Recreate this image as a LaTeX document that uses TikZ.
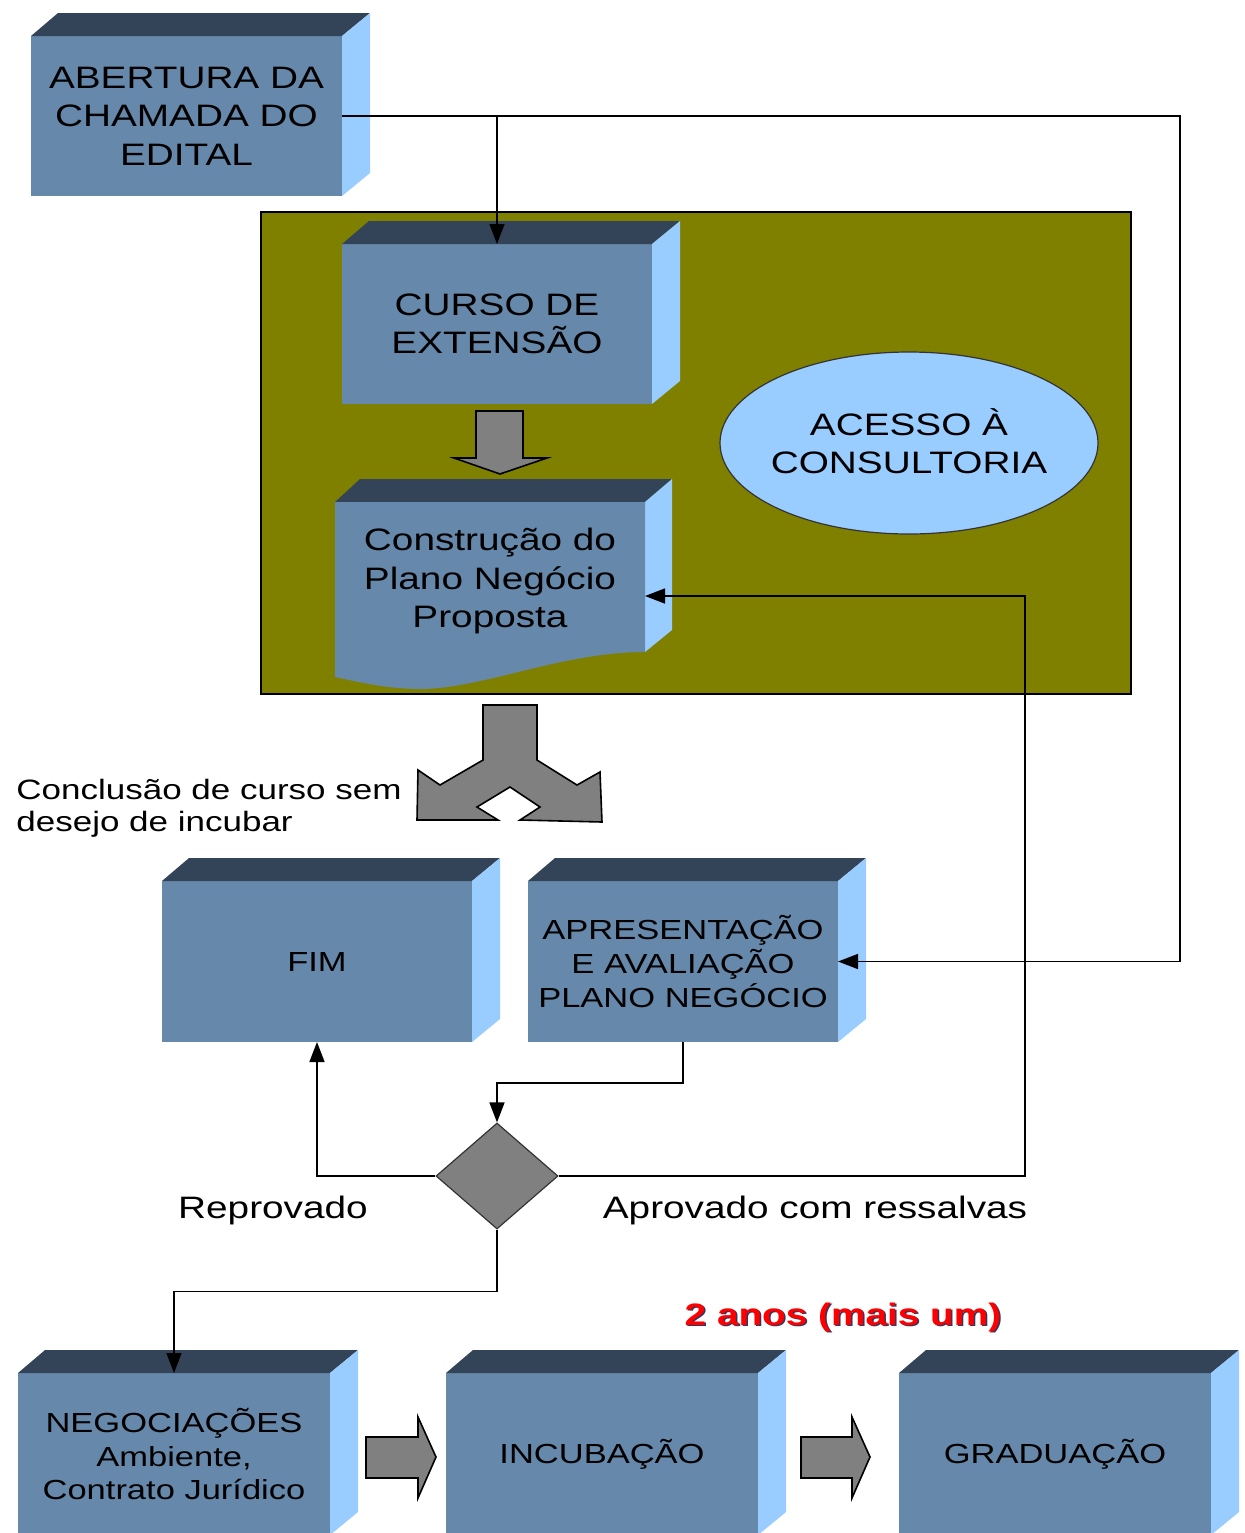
\documentclass[tikz,border=0pt]{standalone}
\usepackage{fontspec}
\setmainfont{Liberation Sans}[FakeStretch=1.25]
\usetikzlibrary{shapes.geometric,arrows.meta}
\definecolor{frontc}{RGB}{102,136,170}
\definecolor{topc}{RGB}{52,68,88}
\definecolor{sidec}{RGB}{153,204,255}
\definecolor{olivec}{RGB}{128,128,0}
\definecolor{grayc}{RGB}{128,128,128}
\definecolor{shadowc}{RGB}{50,55,95}
\tikzset{
  front/.style={fill=frontc,inner sep=0pt,outer sep=0pt,align=center,text=black},
  conn/.style={draw=black,line width=0.75pt,-{Triangle[length=10pt,width=7.5pt]}},
  blockarrow/.style={fill=grayc,draw=black,line width=0.8pt,line join=miter},
  lbl/.style={inner sep=0pt,text=black}
}
\newcommand\faces[1]{%
  \fill[topc] (#1.north west) -- ++(27,-23) -- ([shift={(28,-23)}]#1.north east) -- (#1.north east) -- cycle;
  \fill[sidec] (#1.north east) -- ++(28,-23) -- ([shift={(28,-23)}]#1.south east) -- (#1.south east) -- cycle;
}
\newcommand\bigfont{\fontsize{15.5}{19.2}\selectfont}
\newcommand\midfont{\fontsize{13.8}{16.8}\selectfont}
\begin{document}
\begin{tikzpicture}[x=0.5pt,y=-0.5pt]
\useasboundingbox (0,0) rectangle (1244,1533);
\clip (0,0) rectangle (1244,1533);
\fill[white] (0,0) rectangle (1244,1533);

% olive background
\node[fill=olivec,draw=black,line width=0.6pt,inner sep=0pt,minimum width=435pt,minimum height=241pt] (bg) at (696,453) {};

% box 1
\node[front,font=\bigfont,minimum width=155.5pt,minimum height=80pt] (ab) at (186.5,116) {ABERTURA DA\\CHAMADA DO\\EDITAL};
\faces{ab}

% box 2
\node[front,font=\bigfont,minimum width=155pt,minimum height=80pt] (cur) at (497,324) {CURSO DE\\EXTENSÃO};
\faces{cur}

% box 3 (document shape)
\fill[topc] (335,502) -- (360,479) -- (672,479) -- (645,502) -- cycle;
\fill[sidec] (645,502) -- (672,479) -- (672,630) -- (645,652) -- cycle;
\fill[frontc] (335,502) -- (645,502) -- (645,652) .. controls (560,652) and (480,690) .. (417,689) .. controls (380,688) and (355,681) .. (335,677) -- cycle;
\node[inner sep=0pt,outer sep=0pt,minimum width=155pt,minimum height=94pt] (con) at (490,596) {};
\node[lbl,font=\bigfont,align=center] (contxt) at (490,581) {Construção do\\Plano Negócio\\Proposta};

% ellipse
\node[ellipse,fill=sidec,draw=black!80,line width=0.6pt,minimum width=189pt,minimum height=91pt,inner sep=0pt] (acc) at (909,443) {};
\node[lbl,font=\bigfont,align=center] (acctxt) at (909,441) {ACESSO À\\CONSULTORIA};

% arrow between box2 and box3
\path[blockarrow] (476,411) -- (523,411) -- (523,458) -- (547,458) -- (500,474) -- (454,458) -- (476,458) -- cycle;

% three-way arrow
\path[blockarrow] (483,705) -- (537,705) -- (537,760) -- (577,785) -- (600,772) -- (602,822) -- (520,820) -- (540,807) -- (510,787) -- (477,807) -- (498,820) -- (417,820) -- (418,770) -- (440,785) -- (483,760) -- cycle;

\node[lbl,font=\fontsize{14}{16}\selectfont,align=left,anchor=west] (concl) at (16,808) {Conclusão de curso sem\\desejo de incubar};

% FIM and APRESENTACAO
\node[front,font=\midfont,minimum width=155pt,minimum height=80.5pt] (fim) at (317,961.5) {FIM};
\faces{fim}
\node[front,font=\midfont,minimum width=155pt,minimum height=80.5pt] (apr) at (683,961.5) {APRESENTAÇÃO\\E AVALIAÇÃO\\PLANO NEGÓCIO};
\faces{apr}

% diamond
\node[diamond,fill=grayc,draw=black!80,line width=0.6pt,minimum width=61pt,minimum height=53pt,inner sep=0pt] (dia) at (497,1176) {};

\node[lbl,font=\fontsize{15.5}{18}\selectfont] (rep) at (273,1210) {Reprovado};
\node[lbl,font=\fontsize{15.5}{18}\selectfont] (apv) at (815,1210) {Aprovado com ressalvas};

% 2 anos
\node[lbl,font=\fontsize{15.5}{18}\selectfont\bfseries,text=shadowc] (yrsh) at (844.5,1318.5) {2 anos (mais um)};
\node[lbl,font=\fontsize{15.5}{18}\selectfont\bfseries,text=red] (yrs) at (843,1317) {2 anos (mais um)};

% bottom boxes
\node[front,font=\midfont,minimum width=156pt,minimum height=81pt] (neg) at (174,1454) {NEGOCIAÇÕES\\Ambiente,\\Contrato Jurídico};
\faces{neg}
\node[front,font=\midfont,minimum width=156pt,minimum height=81pt] (inc) at (602,1454) {INCUBAÇÃO};
\faces{inc}
\node[front,font=\midfont,minimum width=156pt,minimum height=81pt] (gra) at (1055,1454) {GRADUAÇÃO};
\faces{gra}

% small block arrows
\path[blockarrow] (366,1437) -- (418,1437) -- (418,1417) -- (436,1457) -- (418,1498) -- (418,1478) -- (366,1478) -- cycle;
\path[blockarrow] (801,1437) -- (852,1437) -- (852,1417) -- (870,1457) -- (852,1498) -- (852,1478) -- (801,1478) -- cycle;

% connectors
\coordinate (rtop) at (1180,116);
\draw[conn] (ab.east) -- (rtop) |- (apr.east);
\draw[conn] (ab.east -| cur.north) -- (cur.north);
\draw[conn] (apr.south) -- ++(0,41) -| (dia.north);
\draw[conn] (dia.west) -| (fim.south);
\coordinate (rmid) at (1025,1176);
\draw[conn] (dia.east) -- (rmid) |- (con.east);
\draw[conn] (dia.south) -- ++(0,62) -| (neg.north);
\end{tikzpicture}
\end{document}
